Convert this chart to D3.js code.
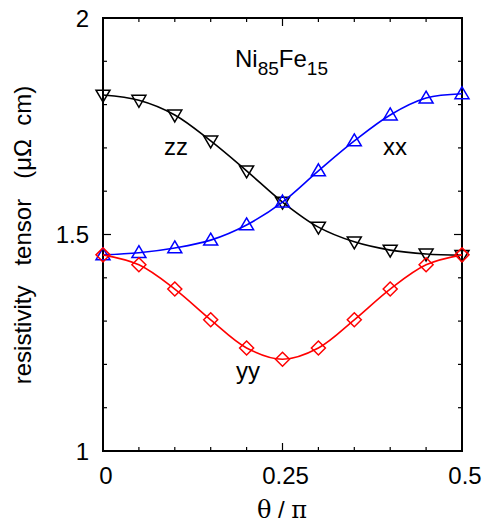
<!DOCTYPE html>
<html>
<head>
<meta charset="utf-8">
<script src="https://d3js.org/d3.v7.min.js"></script>
<style>
  body { margin: 0; background: #fff; }
  text { font-family: "Liberation Sans", Arial, sans-serif; }
</style>
</head>
<body>
<div id="chart"></div>
<script>
// angle theta/pi
const theta = [0, 0.05, 0.1, 0.15, 0.2, 0.25, 0.3, 0.35, 0.4, 0.45, 0.5];
// resistivity tensor components (muOhm cm)
const zz = [1.822, 1.81, 1.776, 1.716, 1.647, 1.575, 1.517, 1.483, 1.464, 1.455, 1.452];
const xx = [1.453, 1.458, 1.469, 1.487, 1.522, 1.575, 1.647, 1.716, 1.776, 1.815, 1.825];
const yy = [1.453, 1.43, 1.374, 1.303, 1.238, 1.212, 1.238, 1.303, 1.374, 1.43, 1.453];
const xTicks = [0, 0.25, 0.5];
const yTicks = [1, 1.5, 2];

const width = 486, height = 523;
const margin = {top: 18, right: 24, bottom: 72, left: 103};

const svg = d3.select("#chart").append("svg")
    .attr("width", width)
    .attr("height", height);

const x = d3.scaleLinear().domain([0, 0.5]).range([margin.left, width - margin.right]);
const y = d3.scaleLinear().domain([1, 2]).range([height - margin.bottom, margin.top]);

// inward ticks on all four sides
const minorX = d3.range(0, 0.5001, 0.05);
const minorY = d3.range(1, 2.0001, 0.1);
const isMajor = (v, list) => list.some(t => Math.abs(t - v) < 1e-6);

const tk = svg.append("g").attr("stroke", "#000").attr("stroke-width", 1.2);
minorX.forEach(v => {
  const len = isMajor(v, xTicks) ? 8 : 4;
  tk.append("line").attr("x1", x(v)).attr("x2", x(v)).attr("y1", y(1)).attr("y2", y(1) - len);
  tk.append("line").attr("x1", x(v)).attr("x2", x(v)).attr("y1", y(2)).attr("y2", y(2) + len);
});
minorY.forEach(v => {
  const len = isMajor(v, yTicks) ? 8 : 4;
  tk.append("line").attr("y1", y(v)).attr("y2", y(v)).attr("x1", x(0)).attr("x2", x(0) + len);
  tk.append("line").attr("y1", y(v)).attr("y2", y(v)).attr("x1", x(0.5)).attr("x2", x(0.5) - len);
});

// frame
svg.append("rect")
    .attr("x", x(0)).attr("y", y(2))
    .attr("width", x(0.5) - x(0)).attr("height", y(1) - y(2))
    .attr("fill", "none").attr("stroke", "#000").attr("stroke-width", 2);

// tick labels
svg.append("g").selectAll("text").data(xTicks).join("text")
    .attr("x", d => x(d) + 3).attr("y", 484)
    .attr("text-anchor", "middle").attr("font-size", 24)
    .text(d => d);
svg.append("g").selectAll("text").data(yTicks).join("text")
    .attr("x", 89).attr("y", d => y(d) + 8.5)
    .attr("text-anchor", "end").attr("font-size", 24)
    .text(d => d);

// axis titles
const xl = svg.append("text").attr("x", 282).attr("y", 518)
    .attr("text-anchor", "middle").attr("font-size", 24);
xl.append("tspan").attr("font-family", "'DejaVu Serif', serif").text("θ");
xl.append("tspan").text(" / ");
xl.append("tspan").attr("font-family", "'DejaVu Serif', serif").text("π");

svg.append("text")
    .attr("transform", `translate(31,235) rotate(-90)`)
    .attr("text-anchor", "middle").attr("font-size", 24)
    .attr("xml:space", "preserve")
    .text("resistivity   tensor   (μΩ  cm)");

// series
const series = [
  {name: "zz", values: zz, color: "#000", symbol: "down"},
  {name: "xx", values: xx, color: "#0000ff", symbol: "up"},
  {name: "yy", values: yy, color: "#ff0000", symbol: "diamond"}
];

const line = d3.line()
    .x(d => x(d[0])).y(d => y(d[1]))
    .curve(d3.curveCatmullRom.alpha(0.5));

const s = 7;
function marker(sym) {
  if (sym === "up") return `M0,${-s}L${s},${s * 0.7}L${-s},${s * 0.7}Z`;
  if (sym === "down") return `M0,${s}L${s},${-s * 0.7}L${-s},${-s * 0.7}Z`;
  return `M0,${-s}L${s},0L0,${s}L${-s},0Z`;
}

series.forEach(sr => {
  const pts = theta.map((t, i) => [t, sr.values[i]]);
  svg.append("path").datum(pts)
      .attr("d", line)
      .attr("fill", "none").attr("stroke", sr.color).attr("stroke-width", 1.6);
  svg.append("g").selectAll("path").data(pts).join("path")
      .attr("transform", d => `translate(${x(d[0])},${y(d[1])})`)
      .attr("d", marker(sr.symbol))
      .attr("fill", "none").attr("stroke", sr.color).attr("stroke-width", 1.5);
});

// annotations
const ann = [
  {t: "zz", px: 176, py: 155},
  {t: "xx", px: 395, py: 155},
  {t: "yy", px: 248, py: 379}
];
svg.append("g").selectAll("text").data(ann).join("text")
    .attr("x", d => d.px).attr("y", d => d.py)
    .attr("text-anchor", "middle").attr("font-size", 24)
    .text(d => d.t);

const ni = svg.append("text").attr("x", 235).attr("y", 67).attr("font-size", 24);
ni.append("tspan").text("Ni");
ni.append("tspan").attr("font-size", 19).attr("dy", 8).text("85");
ni.append("tspan").attr("dy", -8).text("Fe");
ni.append("tspan").attr("font-size", 19).attr("dy", 8).text("15");
</script>
</body>
</html>
